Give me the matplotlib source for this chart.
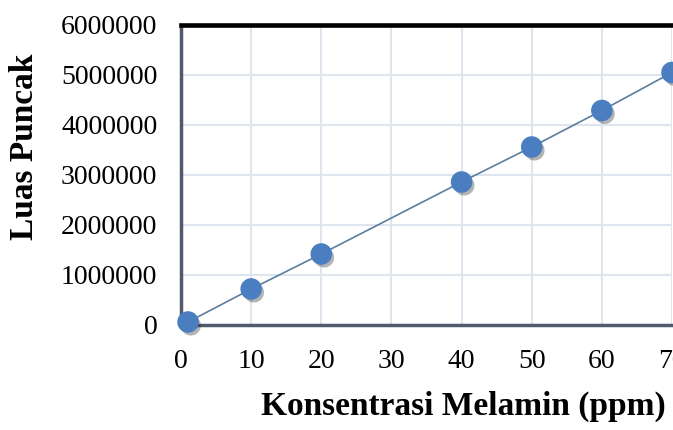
import matplotlib.pyplot as plt
import matplotlib.patheffects as pe

# kadar melamin (ppm) vs luas puncak
konsentrasi = [1, 10, 20, 40, 50, 60, 70]
luas_puncak = [60000, 720000, 1420000, 2860000, 3560000, 4290000, 5050000]
x_ticks = [0, 10, 20, 30, 40, 50, 60, 70]
y_ticks = [0, 1000000, 2000000, 3000000, 4000000, 5000000, 6000000]

plt.rcParams['font.family'] = ['Liberation Serif', 'DejaVu Serif']

fig = plt.figure(figsize=(6.73, 4.30), dpi=100)
ax = fig.add_axes([0.269, 0.2442, 0.7295, 0.6977])

ax.plot(konsentrasi, luas_puncak, color='#5b7e9f', lw=1.2, zorder=3)
ax.plot(konsentrasi, luas_puncak, ls='none', marker='o', ms=14.5,
        mfc='#4a7ec0', mec='#4a7ec0', zorder=4, clip_on=False,
        path_effects=[pe.SimplePatchShadow(offset=(2, -2.5), shadow_rgbFace='#2a2a2a', alpha=0.35),
                      pe.Normal()])

ax.set_xlim(0, 70)
ax.set_ylim(0, 6000000)
ax.set_xticks(x_ticks)
ax.set_yticks(y_ticks)
ax.set_xticklabels([str(v) for v in x_ticks])
ax.set_yticklabels([str(v) for v in y_ticks])
ax.tick_params(length=0, labelsize=20)
ax.tick_params(axis='y', pad=17)
ax.tick_params(axis='x', pad=17)

ax.grid(True, color='#dfe5ef', lw=1.5)
ax.set_axisbelow(True)

ax.spines['top'].set_color('black')
ax.spines['top'].set_linewidth(3.3)
ax.spines['left'].set_color('#4f5b6b')
ax.spines['left'].set_linewidth(2.5)
ax.spines['bottom'].set_color('#4f5b6b')
ax.spines['bottom'].set_linewidth(2.5)
ax.spines['right'].set_visible(False)

ax.set_ylabel('Luas Puncak', fontsize=24, fontweight='bold')
ax.set_xlabel('Konsentrasi Melamin (ppm)', fontsize=24, fontweight='bold')
ax.xaxis.set_label_coords(0.576, -0.22)
ax.yaxis.set_label_coords(-0.288, 0.593)

fig.savefig('out.png', dpi=100)
